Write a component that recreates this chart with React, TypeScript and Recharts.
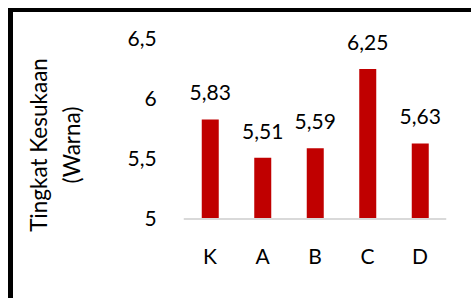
import React from "react";
import { BarChart, Bar, XAxis, YAxis, LabelList, Label } from "recharts";

const categories = ["K", "A", "B", "C", "D"];
const values = [5.83, 5.51, 5.59, 6.25, 5.63];
const yTicks = [5, 5.5, 6, 6.5];
const yTitleLines = ["Tingkat Kesukaan", "(Warna)"];

const data = categories.map((c, i) => ({ name: c, value: values[i] }));

const FONT = "Lato, 'Open Sans', sans-serif";
const fmt = (v: number) => String(v).replace(".", ",");

const YTitle = (props: any) => {
  const vb = props.viewBox || {};
  const cy = vb.y + vb.height / 2 + 16;
  return (
    <g>
      <text
        transform={`translate(47, ${cy}) rotate(-90)`}
        textAnchor="middle"
        fontSize={22.5}
        fontFamily={FONT}
        fill="#000"
      >
        {yTitleLines[0]}
      </text>
      <text
        transform={`translate(80, ${cy}) rotate(-90)`}
        textAnchor="middle"
        fontSize={22.5}
        fontFamily={FONT}
        fill="#000"
      >
        {yTitleLines[1]}
      </text>
    </g>
  );
};

export default function App() {
  return (
    <div style={{ position: "absolute", left: 0, top: 0, width: 471, height: 298, background: "#fff", overflow: "hidden" }}>
      <div
        style={{
          position: "absolute",
          left: 8,
          top: 8,
          width: 500,
          height: 400,
          borderLeft: "5px solid #000",
          borderTop: "4px solid #000",
          boxSizing: "border-box",
        }}
      />
      <div style={{ position: "absolute", left: 0, top: 0 }}>
        <BarChart
          width={471}
          height={298}
          data={data}
          margin={{ top: 39, right: 24.75, bottom: 49, left: 0 }}
        >
          <XAxis
            dataKey="name"
            axisLine={{ stroke: "#d9d9d9", strokeWidth: 2 }}
            tickLine={false}
            tickSize={0}
            tickMargin={30}
            height={30}
            tick={{ fill: "#000", fontSize: 21, fontFamily: FONT }}
          />
          <YAxis
            width={183.75}
            domain={[5, 6.5]}
            ticks={yTicks}
            axisLine={false}
            tickLine={false}
            tickSize={0}
            tickMargin={27}
            tickFormatter={fmt}
            tick={{ fill: "#000", fontSize: 21, fontFamily: FONT }}
          >
            <Label content={<YTitle />} />
          </YAxis>
          <Bar dataKey="value" fill="#C00000" barSize={17} isAnimationActive={false}>
            <LabelList
              dataKey="value"
              position="top"
              offset={19}
              formatter={(v: any) => fmt(v)}
              style={{ fill: "#000", fontSize: 21, fontFamily: FONT }}
            />
          </Bar>
        </BarChart>
      </div>
    </div>
  );
}
